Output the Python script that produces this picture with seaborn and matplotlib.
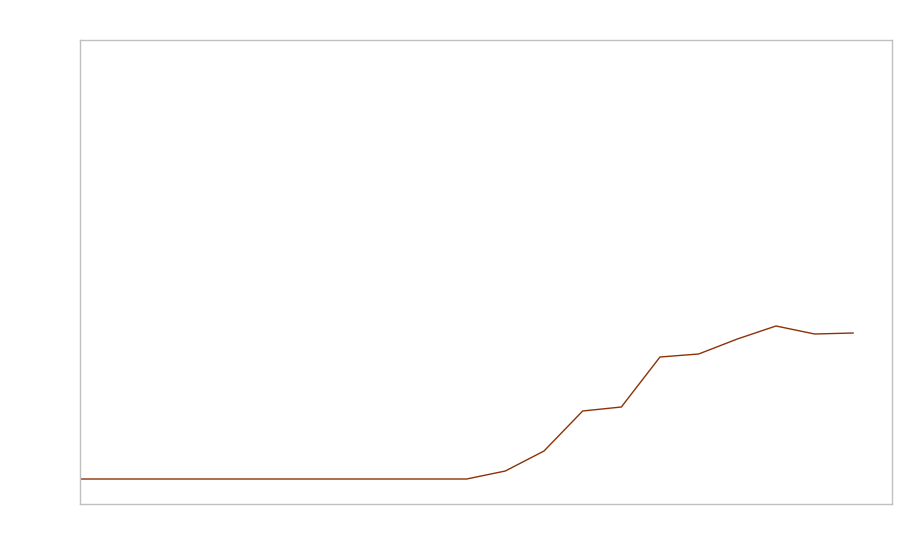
import matplotlib
matplotlib.use("Agg")
import matplotlib.pyplot as plt
import seaborn as sns
import pandas as pd

sns.set_theme(style="white")

periods = list(range(21))
values = [0, 0, 0, 0, 0, 0, 0, 0, 0, 0, 0, 8, 28, 68, 72, 122, 125, 140, 153, 145, 146]

df = pd.DataFrame({"period": periods, "value": values})

fig = plt.figure(figsize=(9, 5.6), dpi=100)
ax = fig.add_axes([80/900, 1-504/560, 812/900, 464/560])
sns.lineplot(data=df, x="period", y="value", ax=ax, color="#8c3208", linewidth=1.0)
ax.set_xlim(0, 21)
ax.set_ylim(-25, 439)
ax.set_xticks([])
ax.set_yticks([])
ax.set_xlabel("")
ax.set_ylabel("")
for s in ax.spines.values():
    s.set_color("#c0c0c0")
    s.set_linewidth(1.0)
fig.savefig("out.png", dpi=100)
